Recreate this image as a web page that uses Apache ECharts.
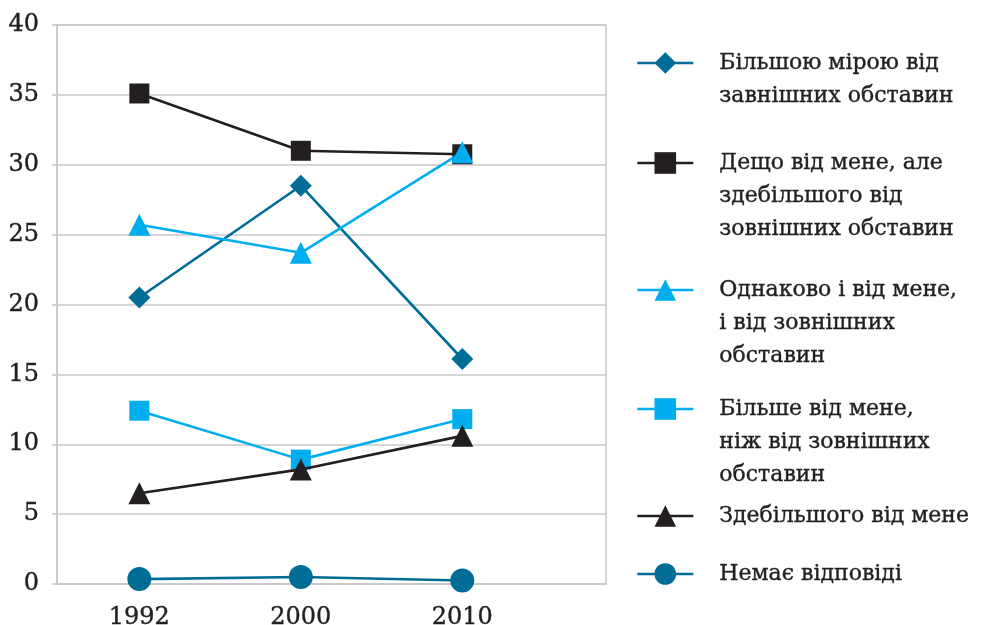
<!DOCTYPE html>
<html><head><meta charset="utf-8">
<script src="https://cdn.jsdelivr.net/npm/echarts@6/dist/echarts.min.js"></script>
<style>html,body{margin:0;padding:0;background:#fff}#c{width:992px;height:625px}</style>
</head><body><div id="c"></div>
<script>
const years = ['1992', '2000', '2010'];
const seriesNames = [
  'Більшою мірою від завнішних обставин',
  'Дещо від мене, але здебільшого від зовнішних обставин',
  'Однаково і від мене, і від зовнішних обставин',
  'Більше від мене, ніж від зовнішних обставин',
  'Здебільшого від мене',
  'Немає відповіді'
];
const legendLines = [
  ['Більшою мірою від', 'завнішних обставин'],
  ['Дещо від мене, але', 'здебільшого від', 'зовнішних обставин'],
  ['Однаково і від мене,', 'і від зовнішних', 'обставин'],
  ['Більше від мене,', 'ніж від зовнішних', 'обставин'],
  ['Здебільшого від мене'],
  ['Немає відповіді']
];
const valsExternal = [20.5, 28.5, 16.1];
const valsSomewhatMe = [35.1, 31.0, 30.75];
const valsEqual = [25.7, 23.7, 30.9];
const valsMoreMe = [12.4, 8.9, 11.8];
const valsMostlyMe = [6.5, 8.2, 10.6];
const valsNoAnswer = [0.35, 0.5, 0.25];
const yTicks = [0, 5, 10, 15, 20, 25, 30, 35, 40];

const TEAL = '#006d96', BLACK = '#231f20', CYAN = '#00aeef';
const styles = [
  {color: TEAL, symbol: 'diamond', size: 22},
  {color: BLACK, symbol: 'rect', size: 20},
  {color: CYAN, symbol: 'triangle', size: 22},
  {color: CYAN, symbol: 'rect', size: 20},
  {color: BLACK, symbol: 'triangle', size: 22},
  {color: TEAL, symbol: 'circle', size: 24}
];
const allVals = [valsExternal, valsSomewhatMe, valsEqual, valsMoreMe, valsMostlyMe, valsNoAnswer];
const iconCenters = [63, 163, 290, 409, 516, 574];

const FONT = 'DejaVu Serif';
const LH = 33;
const TXT = {fontFamily: FONT, color: BLACK, textBorderColor: BLACK, textBorderWidth: 0.4};
const chart = echarts.init(document.getElementById('c'));

const series = allVals.map((vals, k) => ({
  name: seriesNames[k],
  type: 'line',
  data: vals.map((v, i) => [i, v]),
  symbol: styles[k].symbol,
  symbolSize: styles[k].size,
  lineStyle: {color: styles[k].color, width: 2.6},
  itemStyle: {color: styles[k].color},
  emphasis: {disabled: true},
  animation: false,
  z: 2 + k
}));

const legends = seriesNames.map((name, k) => {
  const n = legendLines[k].length;
  const H = (2 * n - 1) * LH;
  return {
    orient: 'vertical',
    left: 636,
    top: iconCenters[k] - Math.max(H / 2, 13.5),
    padding: 0,
    itemWidth: 56,
    itemHeight: 27,
    selectedMode: false,
    data: [{name: name}],
    lineStyle: {width: 2.6},
    formatter: () => '\n'.repeat(n - 1) + legendLines[k].join('\n'),
    textStyle: Object.assign({fontSize: 22, lineHeight: LH, padding: [0, 0, 0, 21]}, TXT)
  };
});

chart.setOption({
  animation: false,
  backgroundColor: '#fff',
  grid: {left: 57, right: 386, top: 25, bottom: 41, outerBoundsMode: 'none', containLabel: false,
         show: true, borderColor: '#c8c8c8', borderWidth: 1.5},
  xAxis: {
    type: 'value', min: -0.51, max: 2.89,
    splitLine: {show: false},
    axisLine: {show: true, onZero: false, lineStyle: {color: '#c8c8c8', width: 1.5}},
    axisTick: {show: false},
    axisLabel: Object.assign({
      customValues: [0, 1, 2],
      formatter: v => years[Math.round(v)] || '',
      fontSize: 24, margin: 22
    }, TXT)
  },
  yAxis: {
    type: 'value', min: 0, max: 40, interval: 5,
    splitLine: {show: true, lineStyle: {color: '#c8c8c8', width: 1.5}},
    axisLine: {show: true, onZero: false, lineStyle: {color: '#c8c8c8', width: 1.5}},
    axisTick: {show: true, length: 5, lineStyle: {color: '#c8c8c8', width: 1.5}},
    axisLabel: Object.assign({
      formatter: v => yTicks.includes(v) ? String(v) : '',
      fontSize: 24, margin: 18
    }, TXT)
  },
  legend: legends,
  series: series
});
</script>
</body></html>
